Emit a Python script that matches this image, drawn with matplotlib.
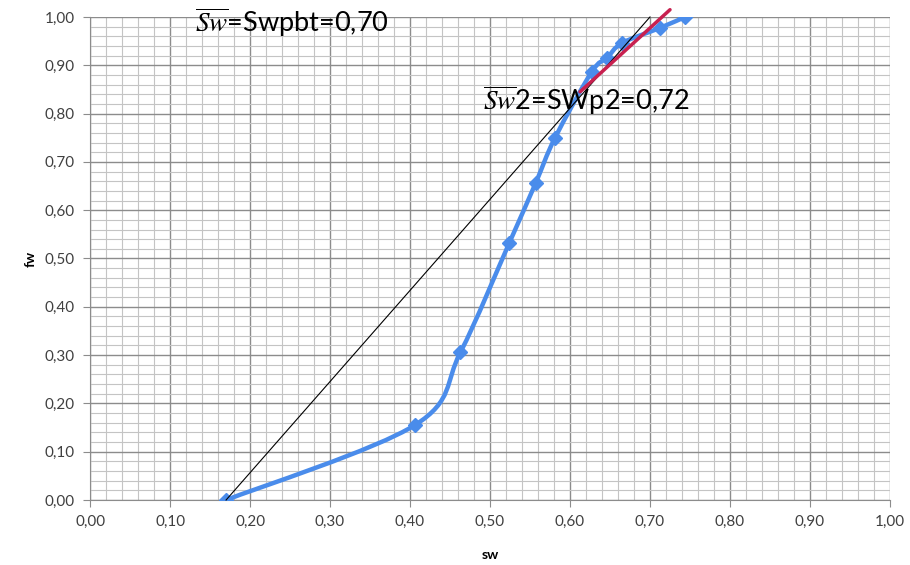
import numpy as np
import matplotlib.pyplot as plt
from matplotlib.path import Path
from matplotlib.patches import PathPatch
from matplotlib.ticker import MultipleLocator, FuncFormatter

# данные кривой fw(sw)
sw = [0.17, 0.406, 0.463, 0.524, 0.557, 0.581, 0.627, 0.646, 0.665, 0.712, 0.744]
fw = [0.00, 0.155, 0.306, 0.532, 0.656, 0.749, 0.886, 0.915, 0.946, 0.977, 1.00]

# касательная из точки (Swc, 0) до fw=1
tan_sw = [0.17, 0.70]
tan_fw = [0.00, 1.00]

# касательная 2 (красная)
red_sw = [0.6125, 0.725]
red_fw = [0.845, 1.015]

blue = '#4A8CEB'
red = '#C8204F'

plt.rcParams['font.family'] = ['Lato', 'DejaVu Sans']
plt.rcParams['mathtext.fontset'] = 'stix'

fig = plt.figure(figsize=(9.1, 5.65), dpi=100)
ax = fig.add_axes([0.099, 0.115, 0.879, 0.855])


def smooth_path(x, y):
    """Сглаженная линия как в Excel (кривые Безье)"""
    pts = np.column_stack([x, y])
    n = len(pts)
    verts = [pts[0]]
    codes = [Path.MOVETO]
    for i in range(n - 1):
        p0 = pts[i - 1] if i > 0 else pts[i]
        p1 = pts[i]
        p2 = pts[i + 1]
        p3 = pts[i + 2] if i + 2 < n else pts[i + 1]
        c1 = p1 + (p2 - p0) / 6.0
        c2 = p2 - (p3 - p1) / 6.0
        verts += [c1, c2, p2]
        codes += [Path.CURVE4] * 3
    return Path(verts, codes)


ax.add_patch(PathPatch(smooth_path(sw, fw), facecolor='none', edgecolor=blue,
                       lw=3.2, zorder=3, capstyle='round', joinstyle='round'))
ax.plot(sw, fw, linestyle='none', marker='D', markersize=7.5, color=blue, zorder=4)

ax.plot(tan_sw, tan_fw, color='black', lw=0.8, zorder=5, clip_on=False)
ax.plot(red_sw, red_fw, color=red, lw=2.5, zorder=6, clip_on=False,
        solid_capstyle='round')

ax.set_xlim(0, 1)
ax.set_ylim(0, 1)
ax.xaxis.set_major_locator(MultipleLocator(0.1))
ax.yaxis.set_major_locator(MultipleLocator(0.1))
ax.xaxis.set_minor_locator(MultipleLocator(0.02))
ax.yaxis.set_minor_locator(MultipleLocator(0.02))
fmt = FuncFormatter(lambda v, p: f'{v:.2f}'.replace('.', ','))
ax.xaxis.set_major_formatter(fmt)
ax.yaxis.set_major_formatter(fmt)

ax.grid(True, which='major', color='#8C8C8C', lw=1.0)
ax.grid(True, which='minor', color='#C4C4C4', lw=0.8)
ax.set_axisbelow(True)
ax.tick_params(which='minor', length=0)
ax.tick_params(which='major', length=5, color='#8C8C8C', labelsize=11,
               labelcolor='#404040', pad=6)
for s in ['top', 'right']:
    ax.spines[s].set_visible(False)
for s in ['left', 'bottom']:
    ax.spines[s].set_color('#8C8C8C')

ax.set_xlabel('sw', fontsize=10, fontweight='bold', labelpad=14)
ax.set_ylabel('fw', fontsize=10, fontweight='bold', labelpad=6)

ax.text(0.131, 0.99, r'$\overline{Sw}$=Swpbt=0,70', fontsize=19.5, va='center',
        ha='left', zorder=7)
ax.text(0.491, 0.828, r'$\overline{Sw}$2=SWp2=0,72', fontsize=19.5, va='center',
        ha='left', zorder=7)

plt.savefig('out.png', dpi=100)
plt.close()
